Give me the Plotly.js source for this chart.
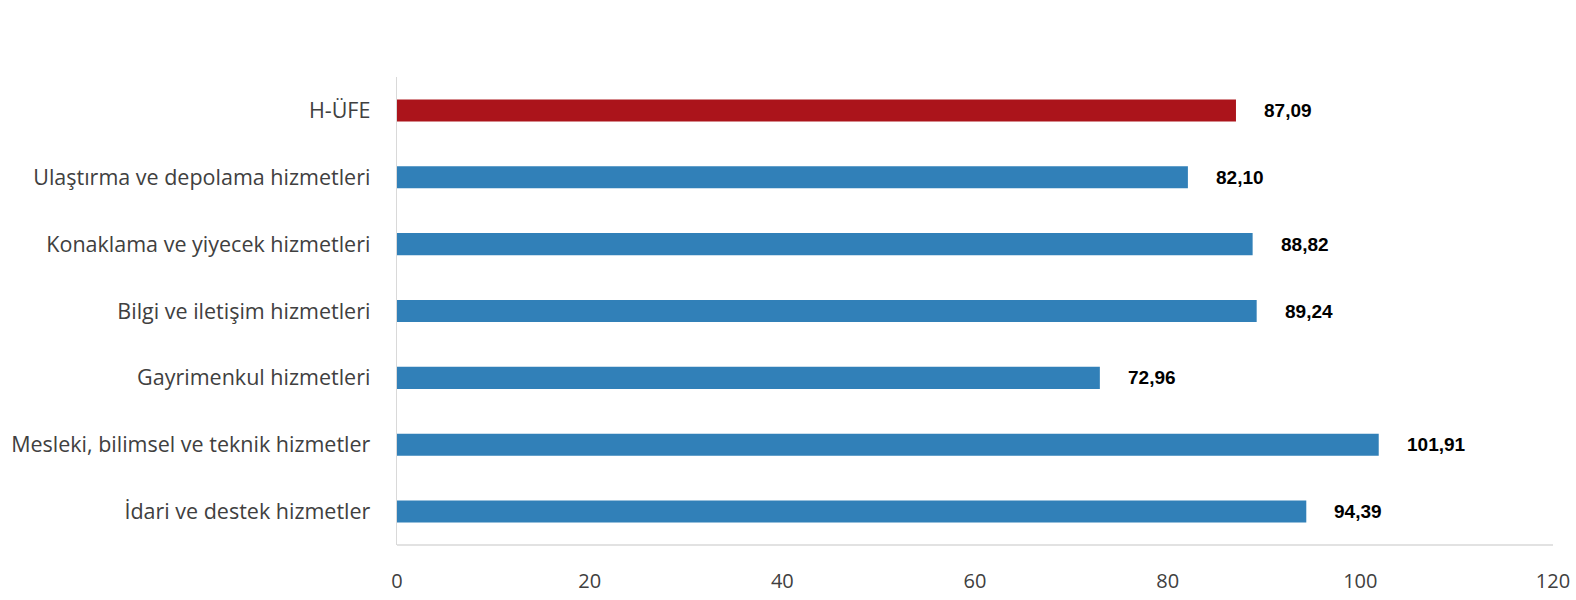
<!DOCTYPE html>
<html>
<head>
<meta charset="utf-8">
<script src="https://cdn.plot.ly/plotly-3.0.1.min.js"></script>
<style>html,body{margin:0;padding:0;background:#fff;}#chart{width:1576px;height:600px;}</style>
</head>
<body>
<div id="chart"></div>
<script>
const categories = [
  "H-ÜFE",
  "Ulaştırma ve depolama hizmetleri",
  "Konaklama ve yiyecek hizmetleri",
  "Bilgi ve iletişim hizmetleri",
  "Gayrimenkul hizmetleri",
  "Mesleki, bilimsel ve teknik hizmetler",
  "İdari ve destek hizmetler"
];
const values = [87.09, 82.10, 88.82, 89.24, 72.96, 101.91, 94.39];
const valueLabels = ["87,09", "82,10", "88,82", "89,24", "72,96", "101,91", "94,39"];
const barColors = ["#AB141B", "#3180B8", "#3180B8", "#3180B8", "#3180B8", "#3180B8", "#3180B8"];
const xTicks = [0, 20, 40, 60, 80, 100, 120];

const trace = {
  type: "bar",
  orientation: "h",
  y: categories,
  x: values,
  marker: {color: barColors},
  hoverinfo: "none"
};

const annotations = categories.map((c, i) => ({
  x: values[i], y: c, xref: "x", yref: "y",
  text: valueLabels[i], showarrow: false,
  xanchor: "left", xshift: 26,
  font: {family: "Liberation Sans, Arial, sans-serif", size: 19, color: "#000", weight: "bold"}
}));

const layout = {
  width: 1576, height: 600,
  margin: {l: 397, r: 23, t: 77, b: 55},
  paper_bgcolor: "#fff", plot_bgcolor: "#fff",
  showlegend: false,
  bargap: 0.67,
  xaxis: {
    range: [0, 120], tickvals: xTicks, ticktext: xTicks.map(String),
    showgrid: false, zeroline: false, showline: false,
    ticks: "", ticklen: 0, ticklabelstandoff: 22,
    tickfont: {family: "Open Sans, Noto Sans, sans-serif", size: 20, color: "#404040"}
  },
  yaxis: {
    autorange: "reversed", type: "category",
    showgrid: false, zeroline: false,
    showline: true, linecolor: "#D9D9D9", linewidth: 1.3,
    ticks: "", ticklen: 0, ticklabelstandoff: 21,
    tickfont: {family: "Open Sans, Noto Sans, sans-serif", size: 21.5, color: "#404040"}
  },
  shapes: [{
    type: "line", xref: "paper", yref: "paper", x0: 0, x1: 1, y0: 0, y1: 0,
    line: {color: "#D9D9D9", width: 1.3}
  }],
  annotations: annotations
};

Plotly.newPlot("chart", [trace], layout, {displayModeBar: false, staticPlot: true});
</script>
</body>
</html>
